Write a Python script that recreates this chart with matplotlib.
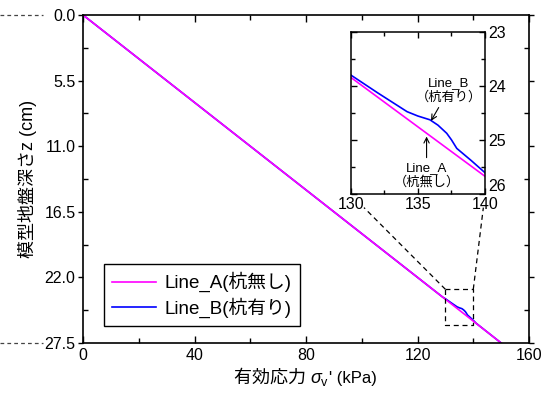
import numpy as np
import matplotlib
matplotlib.use("Agg")
import matplotlib.pyplot as plt
import matplotlib.transforms as mtransforms
from matplotlib.lines import Line2D
from matplotlib.offsetbox import TextArea, HPacker, AnchoredOffsetbox

plt.rcParams["font.family"] = ["Liberation Sans", "Noto Sans CJK JP"]
plt.rcParams["mathtext.fontset"] = "custom"
plt.rcParams["mathtext.rm"] = "Liberation Sans"
plt.rcParams["mathtext.it"] = "Liberation Sans:italic"

# data
stress_a = [0, 150]
depth_a = [0.0, 27.5]
stress_b = [0, 129.0, 130.0, 132.0, 134.2, 135.0, 135.9, 136.5, 137.15,
            137.5, 137.9, 139.0, 140.0, 141.0, 150]
depth_b = [0.0, 23.65, 23.79, 24.12, 24.47, 24.55, 24.62, 24.72, 24.87,
           24.99, 25.15, 25.38, 25.60, 25.84, 27.5]
label_a = "Line_A(杭無し)"
label_b = "Line_B(杭有り)"
zoom_x = [130, 140]
zoom_z = [23, 26]
col_a = "#FF00FF"
col_b = "#0000FF"

fig = plt.figure(figsize=(5.48, 3.98), dpi=100)
ax = fig.add_axes([0.1515, 0.1382, 0.8139, 0.8241])

ax.plot(stress_b, depth_b, color=col_b, lw=1.2)
ax.plot(stress_a, depth_a, color=col_a, lw=1.2)
ax.set_xlim(0, 160)
ax.set_ylim(27.5, 0)
ax.set_xticks(np.arange(0, 161, 40))
ax.set_xticks(np.arange(0, 161, 20), minor=True)
ax.set_yticks(np.arange(0, 27.6, 5.5))
ax.set_yticks(np.arange(0, 27.6, 2.75), minor=True)
ax.yaxis.set_major_formatter(matplotlib.ticker.FormatStrFormatter("%.1f"))
ax.tick_params(which="both", direction="in", top=True, right=True,
               labelsize=11.5, width=1)
ax.tick_params(which="major", length=5)
ax.tick_params(which="minor", length=3.5)
ax.tick_params(axis="y", which="major", direction="out", length=3.5, pad=2)
for s in ax.spines.values():
    s.set_linewidth(1.2)

ax.set_ylabel("模型地盤深さz (cm)", fontsize=13, labelpad=5)

# x label pieced together (CJK + math)
parts = [TextArea("有効応力 ", textprops=dict(fontsize=13, family=["Noto Sans CJK JP"])),
         TextArea(r"$\sigma_{\rm v}$", textprops=dict(fontsize=13)),
         TextArea("' (kPa)", textprops=dict(fontsize=12))]
box = HPacker(children=parts, align="baseline", pad=0, sep=0)
ab = AnchoredOffsetbox(loc="center", child=box, frameon=False, pad=0,
                       bbox_to_anchor=(0.558, 0.05),
                       bbox_transform=fig.transFigure, borderpad=0)
fig.add_artist(ab)

leg = ax.legend([Line2D([], [], color=col_a, lw=1.2),
                 Line2D([], [], color=col_b, lw=1.2)],
                [label_a, label_b], loc="lower left",
                bbox_to_anchor=(0.047, 0.052), borderaxespad=0,
                fancybox=False, edgecolor="black", framealpha=1,
                fontsize=13.5, handlelength=2.3, labelspacing=0.25,
                borderpad=0.45, handletextpad=0.5)
leg.get_frame().set_linewidth(1)

# dashed zoom box
ax.plot([zoom_x[0], zoom_x[1], zoom_x[1], zoom_x[0], zoom_x[0]],
        [zoom_z[0], zoom_z[0], zoom_z[1], zoom_z[1], zoom_z[0]],
        ls=(0, (4, 3)), color="black", lw=0.9)

# inset
ins_pos = [0.640, 0.5118, 0.245, 0.407]
ax_in = fig.add_axes(ins_pos)
ax_in.plot(stress_b, depth_b, color=col_b, lw=1.2)
ax_in.plot(stress_a, depth_a, color=col_a, lw=1.2)
ax_in.set_xlim(zoom_x)
ax_in.set_ylim(zoom_z[1], zoom_z[0])
ax_in.set_xticks([130, 135, 140])
ax_in.set_xticks([132.5, 137.5], minor=True)
ax_in.set_yticks([23, 24, 25, 26])
ax_in.set_yticks([23.5, 24.5, 25.5], minor=True)
ax_in.tick_params(which="both", direction="in", top=True, right=True,
                  left=True, labelleft=False, labelright=True,
                  labelsize=11.5, pad=2, width=1)
ax_in.tick_params(which="major", length=4)
ax_in.tick_params(which="minor", length=3)
for s in ax_in.spines.values():
    s.set_linewidth(1.1)
# lift the bottom label a little so it clears "140"
ax_in.get_yticklabels()[-1].set_va("bottom")

ax_in.annotate("Line_B\n（杭有り）", xy=(135.98, 24.64), xytext=(137.3, 24.07),
               ha="center", va="center", fontsize=9.5, linespacing=1.25,
               arrowprops=dict(arrowstyle="->", lw=0.8, color="black",
                               shrinkA=1, shrinkB=0))
ax_in.annotate("Line_A\n（杭無し）", xy=(135.65, 24.93), xytext=(135.65, 25.65),
               ha="center", va="center", fontsize=9.5, linespacing=1.25,
               arrowprops=dict(arrowstyle="->", lw=0.8, color="black",
                               shrinkA=1, shrinkB=0))

# connector lines from zoom box to inset
to_data = ax.transData.inverted()
corners = [(ins_pos[0], ins_pos[1]), (ins_pos[0] + ins_pos[2], ins_pos[1])]
for (fx, fy), x0 in zip(corners, zoom_x):
    cx, cy = to_data.transform(fig.transFigure.transform((fx, fy)))
    f = 0.86
    ax.plot([x0, x0 + f * (cx - x0)], [zoom_z[0], zoom_z[0] + f * (cy - zoom_z[0])],
            ls=(0, (4, 3)), color="black", lw=0.9, clip_on=False)

# dashed guides left of the y axis
blend = mtransforms.blended_transform_factory(fig.transFigure, ax.transData)
for z in [depth_a[0], depth_a[-1]]:
    fig.add_artist(Line2D([0.0, 0.079], [z, z], transform=blend,
                          ls=(0, (3, 2.5)), color="#444444", lw=0.9))

fig.savefig("out.png", dpi=100)
